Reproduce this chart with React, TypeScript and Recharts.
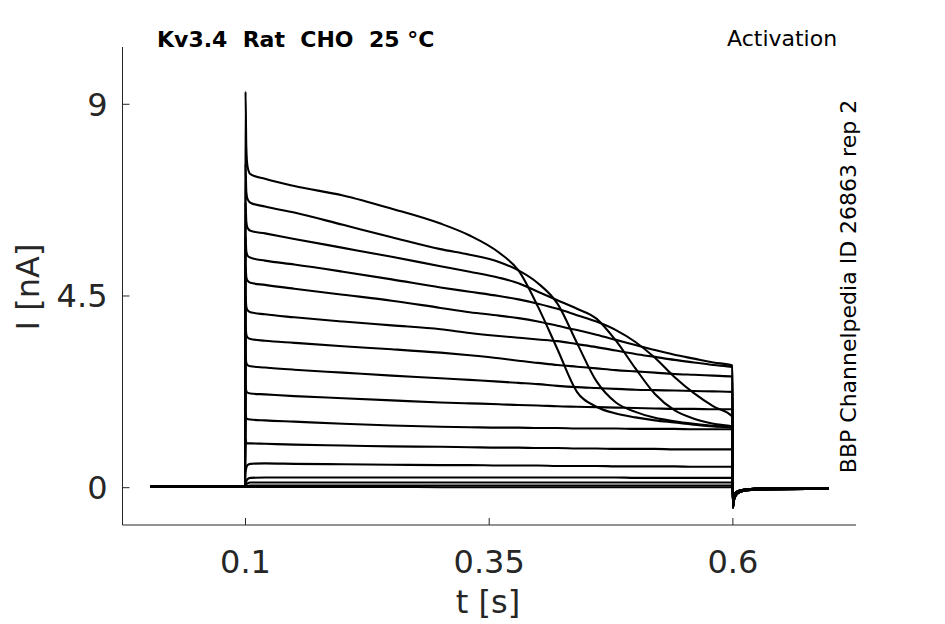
import React from 'react';
import { LineChart, Line, XAxis, YAxis } from 'recharts';

// time points (s)
const preTimes = [0.002, 0.0995];
const stepTimes = [
  0.1, 0.1008, 0.102, 0.105, 0.12, 0.15, 0.2, 0.25, 0.3, 0.33, 0.36, 0.38,
  0.4, 0.42, 0.44, 0.46, 0.48, 0.5, 0.52, 0.54, 0.56, 0.58, 0.5995,
];
const tailTimes = [0.6, 0.601, 0.603, 0.607, 0.615, 0.63, 0.698];

// current (nA) before the step and after it
const holdLevels = [0.02, 0.02];
const tailDeep = [-0.47, -0.3, -0.18, -0.1, -0.06, -0.04, -0.03];
const tailShallow = [-0.32, -0.2, -0.12, -0.07, -0.04, -0.02, -0.01];

// current (nA) during the step, one array per sweep
const sweep01 = [9.3, 8.0, 7.55, 7.36, 7.25, 7.08, 6.86, 6.55, 6.2, 5.92, 5.52, 5.1, 4.25, 3.25, 2.25, 1.9, 1.74, 1.65, 1.58, 1.53, 1.48, 1.44, 1.41];
const sweep02 = [7.6, 6.95, 6.78, 6.69, 6.6, 6.46, 6.17, 5.88, 5.6, 5.47, 5.3, 5.1, 4.8, 4.32, 3.4, 2.5, 2.0, 1.78, 1.64, 1.56, 1.5, 1.45, 1.42];
const sweep03 = [6.7, 6.25, 6.1, 6.03, 5.97, 5.84, 5.63, 5.42, 5.2, 5.07, 4.93, 4.8, 4.6, 4.4, 4.2, 3.97, 3.45, 2.8, 2.2, 1.82, 1.62, 1.5, 1.43];
const sweep04 = [5.9, 5.55, 5.45, 5.4, 5.33, 5.24, 5.07, 4.89, 4.7, 4.6, 4.5, 4.42, 4.32, 4.2, 4.05, 3.9, 3.7, 3.42, 3.05, 2.6, 2.22, 1.91, 1.67];
const sweep05 = [5.2, 4.95, 4.86, 4.81, 4.76, 4.67, 4.53, 4.39, 4.22, 4.12, 4.04, 3.98, 3.9, 3.8, 3.7, 3.59, 3.47, 3.35, 3.23, 3.12, 3.03, 2.94, 2.87];
const sweep06 = [4.5, 4.25, 4.17, 4.12, 4.07, 4.0, 3.9, 3.81, 3.72, 3.63, 3.56, 3.52, 3.48, 3.44, 3.37, 3.3, 3.22, 3.14, 3.07, 3.0, 2.94, 2.88, 2.83];
const sweep07 = [3.8, 3.6, 3.53, 3.49, 3.45, 3.4, 3.32, 3.25, 3.17, 3.11, 3.04, 2.98, 2.93, 2.88, 2.84, 2.8, 2.76, 2.73, 2.7, 2.67, 2.65, 2.63, 2.61];
const sweep08 = [3.1, 2.93, 2.88, 2.85, 2.82, 2.77, 2.7, 2.63, 2.57, 2.53, 2.49, 2.46, 2.43, 2.39, 2.36, 2.34, 2.32, 2.3, 2.29, 2.28, 2.27, 2.26, 2.25];
const sweep09 = [2.4, 2.27, 2.23, 2.21, 2.19, 2.15, 2.1, 2.05, 2.0, 1.98, 1.96, 1.94, 1.93, 1.91, 1.9, 1.89, 1.88, 1.87, 1.86, 1.85, 1.85, 1.84, 1.84];
const sweep10 = [1.75, 1.63, 1.61, 1.6, 1.58, 1.55, 1.5, 1.46, 1.43, 1.42, 1.41, 1.41, 1.4, 1.4, 1.39, 1.39, 1.39, 1.38, 1.38, 1.38, 1.37, 1.37, 1.37];
const sweep11 = [1.15, 1.06, 1.04, 1.04, 1.03, 1.01, 0.99, 0.97, 0.96, 0.95, 0.94, 0.94, 0.93, 0.93, 0.92, 0.92, 0.91, 0.91, 0.91, 0.9, 0.9, 0.9, 0.9];
const sweep12 = [0.35, 0.46, 0.53, 0.56, 0.57, 0.56, 0.55, 0.54, 0.53, 0.53, 0.52, 0.52, 0.52, 0.51, 0.51, 0.51, 0.5, 0.5, 0.5, 0.5, 0.49, 0.49, 0.49];
const sweep13 = [0.1, 0.15, 0.2, 0.23, 0.24, 0.24, 0.24, 0.24, 0.24, 0.24, 0.24, 0.24, 0.24, 0.24, 0.24, 0.24, 0.24, 0.23, 0.23, 0.23, 0.23, 0.23, 0.23];
const sweep14 = [0.04, 0.07, 0.1, 0.12, 0.12, 0.12, 0.12, 0.12, 0.12, 0.12, 0.12, 0.12, 0.12, 0.12, 0.12, 0.12, 0.12, 0.12, 0.12, 0.12, 0.12, 0.12, 0.12];
const sweep15 = [0.02, 0.03, 0.04, 0.05, 0.05, 0.05, 0.05, 0.05, 0.05, 0.05, 0.05, 0.05, 0.05, 0.05, 0.05, 0.05, 0.05, 0.05, 0.05, 0.05, 0.05, 0.05, 0.05];
const sweep16 = [0.02, 0.02, 0.02, 0.02, 0.02, 0.02, 0.02, 0.02, 0.01, 0.01, 0.01, 0.01, 0.01, 0.01, 0.01, 0.01, 0.01, 0.01, 0.01, 0.01, 0.01, 0.01, 0.01];

const xTicks = [0.1, 0.35, 0.6];
const yTicks = [0, 4.5, 9];

const stepSweeps = [
  sweep01, sweep02, sweep03, sweep04, sweep05, sweep06, sweep07, sweep08,
  sweep09, sweep10, sweep11, sweep12, sweep13, sweep14, sweep15, sweep16,
];

const times = [...preTimes, ...stepTimes, ...tailTimes];
const sweeps = stepSweeps.map((s, k) => [
  ...holdLevels,
  ...s,
  ...(k < 6 ? tailDeep : tailShallow),
]);

const data = times.map((t, i) => {
  const row: Record<string, number> = { t };
  sweeps.forEach((s, k) => {
    row[`s${k + 1}`] = s[i];
  });
  return row;
});

const AXIS = '#262626';
const FONT = '"DejaVu Sans", sans-serif';

export default function App() {
  return (
    <div style={{ position: 'absolute', left: 0, top: 0, width: 945, height: 624, background: '#fff' }}>
      <LineChart
        width={945}
        height={624}
        data={data}
        margin={{ top: 47, right: 89, bottom: 0, left: 0 }}
      >
        <XAxis
          dataKey="t"
          type="number"
          domain={[-0.0262, 0.7263]}
          ticks={xTicks}
          allowDataOverflow
          height={99}
          tickSize={-7}
          tickMargin={32}
          axisLine={{ stroke: AXIS, strokeWidth: 1 }}
          tickLine={{ stroke: AXIS, strokeWidth: 1 }}
          tick={{ fontSize: 32, fill: AXIS, fontFamily: FONT }}
        />
        <YAxis
          type="number"
          domain={[-0.876, 10.345]}
          ticks={yTicks}
          allowDataOverflow
          width={122.5}
          tickSize={-7}
          tickMargin={22}
          axisLine={{ stroke: AXIS, strokeWidth: 1 }}
          tickLine={{ stroke: AXIS, strokeWidth: 1 }}
          tick={{ fontSize: 32, fill: AXIS, fontFamily: FONT }}
        />
        {sweeps.map((_, k) => (
          <Line
            key={k}
            dataKey={`s${k + 1}`}
            type="monotoneX"
            stroke="#000"
            strokeWidth={2.1}
            dot={false}
            activeDot={false}
            isAnimationActive={false}
          />
        ))}
      </LineChart>
      <svg
        width={945}
        height={624}
        style={{ position: 'absolute', left: 0, top: 0, pointerEvents: 'none' }}
      >
        <text x={157} y={47} fontSize={22} fontWeight="bold" fill="#000" fontFamily={FONT} xmlSpace="preserve" style={{ whiteSpace: 'pre' }}>
          {'Kv3.4  Rat  CHO  25 °C'}
        </text>
        <text x={727} y={46} fontSize={22} fill="#000" fontFamily={FONT}>
          Activation
        </text>
        <text
          transform="rotate(-90)"
          x={-286.5}
          y={856}
          fontSize={22}
          fill="#000"
          fontFamily={FONT}
          textAnchor="middle"
        >
          BBP Channelpedia ID 26863 rep 2
        </text>
        <text x={488} y={613} fontSize={32} fill={AXIS} fontFamily={FONT} textAnchor="middle">
          t [s]
        </text>
        <text
          transform="rotate(-90)"
          x={-287}
          y={39}
          fontSize={32}
          fill={AXIS}
          fontFamily={FONT}
          textAnchor="middle"
        >
          I [nA]
        </text>
      </svg>
    </div>
  );
}
